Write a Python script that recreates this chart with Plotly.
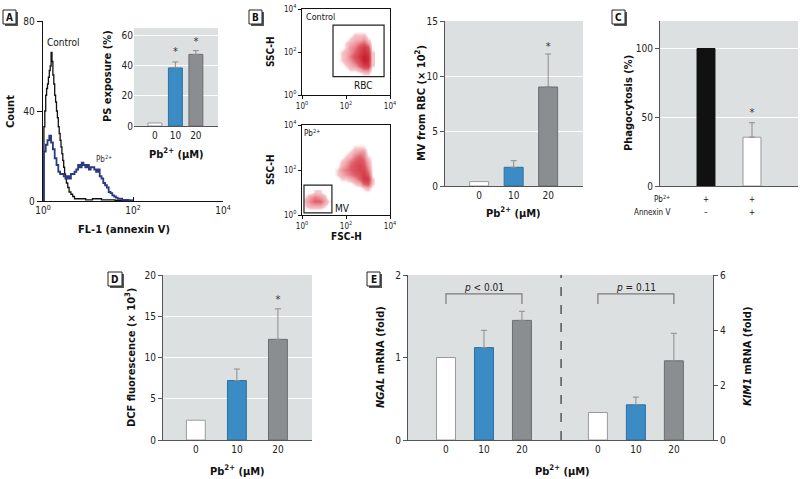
import plotly.graph_objects as go

W, H = 800, 479
FONT = "Liberation Sans Narrow, DejaVu Sans Condensed, Roboto, Arial, sans-serif"
GREY_BG = "#dde0e1"

# ---------------- DATA ----------------
# Panel A histogram (x in log10 FL-1 units)
ctrl_logfl = [0.00, 0.02, 0.04, 0.06, 0.08, 0.10, 0.12, 0.14, 0.16, 0.18, 0.20, 0.22, 0.24, 0.26,
              0.28, 0.30, 0.32, 0.34, 0.36, 0.38, 0.40, 0.42, 0.44, 0.46, 0.48, 0.50, 0.52, 0.55,
              0.58, 0.62, 0.66, 0.70, 0.80, 0.95, 1.10, 1.30, 1.60, 2.00]
ctrl_count = [0, 33, 40, 47, 50, 52, 55, 58, 60, 66, 62, 56, 52, 47, 44, 40, 37, 33, 30, 27,
              24, 21, 18, 15, 12, 10, 8, 6, 4, 3, 2, 1, 1, 0.5, 1, 0.5, 0.3, 0]
pb_logfl = [0.00, 0.02, 0.06, 0.10, 0.14, 0.18, 0.22, 0.26, 0.30, 0.34, 0.38, 0.42, 0.46, 0.50,
            0.54, 0.58, 0.62, 0.66, 0.70, 0.74, 0.78, 0.82, 0.86, 0.90, 0.94, 0.98, 1.02, 1.06,
            1.10, 1.14, 1.18, 1.22, 1.26, 1.30, 1.34, 1.38, 1.42, 1.46, 1.50, 1.54, 1.58, 1.62,
            1.66, 1.70, 1.76, 1.82, 1.90, 2.00]
pb_count = [0, 22, 25, 27, 29, 26, 23, 19, 16, 13, 12, 12, 11, 10, 11, 10, 12, 12, 13, 14,
            16, 15, 17, 16, 15, 16, 14, 15, 15, 14, 13, 14, 11, 10, 8, 7, 6, 4, 3.5, 2.5,
            2, 1.5, 1, 1, 0.5, 0.5, 0.3, 0]
log_ticks = ["10<sup>0</sup>", "10<sup>2</sup>", "10<sup>4</sup>"]

# Panel A inset
dose_labels = ["0", "10", "20"]
ps_exposure = [2.0, 38.5, 47.5]
ps_exposure_top = [2.0, 42.5, 50.0]

# Panel B scatter density grids (log10 FSC-H, log10 SSC-H)
ctrl_fsc = [1.6, 1.8, 2.0, 2.2, 2.4, 2.6, 2.8, 3.0, 3.2]
ctrl_ssc = [1.0, 1.2, 1.4, 1.6, 1.8, 2.0, 2.2, 2.4, 2.6, 2.8, 3.0]
ctrl_density = [
    [0, 0, 0, 0, 0, 0, 1, 1, 0],
    [0, 0, 0, 1, 1, 2, 4, 4, 0],
    [0, 0, 1, 2, 3, 5, 8, 8, 1],
    [0, 1, 2, 3, 5, 7, 10, 9, 1],
    [0, 1, 2, 4, 6, 8, 10, 9, 1],
    [0, 1, 2, 3, 5, 7, 9, 8, 1],
    [0, 0, 1, 3, 4, 6, 8, 6, 0],
    [0, 0, 1, 2, 3, 4, 5, 3, 0],
    [0, 0, 0, 1, 2, 2, 3, 1, 0],
    [0, 0, 0, 0, 1, 1, 1, 0, 0],
    [0, 0, 0, 0, 0, 0, 0, 0, 0],
]
pb_fsc = [1.4, 1.6, 1.8, 2.0, 2.2, 2.4, 2.6, 2.8, 3.0, 3.2]
pb_ssc = [1.0, 1.2, 1.4, 1.6, 1.8, 2.0, 2.2, 2.4, 2.6, 2.8, 3.0, 3.2]
pb_density = [
    [0, 0, 0, 0, 0, 0, 0, 0, 0, 0],
    [0, 0, 0, 0, 0, 0, 0, 1, 2, 0],
    [0, 0, 0, 0, 0, 1, 2, 5, 6, 1],
    [0, 0, 1, 1, 2, 3, 5, 8, 8, 1],
    [0, 1, 2, 3, 4, 5, 6, 8, 6, 0],
    [0, 1, 3, 4, 5, 6, 7, 7, 4, 0],
    [0, 0, 2, 3, 5, 6, 7, 6, 3, 0],
    [0, 0, 1, 2, 4, 5, 6, 5, 2, 0],
    [0, 0, 0, 1, 2, 4, 5, 4, 1, 0],
    [0, 0, 0, 0, 1, 2, 3, 3, 0, 0],
    [0, 0, 0, 0, 0, 1, 1, 1, 0, 0],
    [0, 0, 0, 0, 0, 0, 0, 0, 0, 0],
]
mv_fsc = [0.0, 0.2, 0.4, 0.6, 0.8, 1.0, 1.2, 1.4]
mv_ssc = [0.2, 0.4, 0.6, 0.8, 1.0]
mv_density = [
    [0, 0, 0, 0, 0, 0, 0, 0],
    [0, 1, 2, 2, 2, 1, 0, 0],
    [0, 2, 4, 5, 5, 3, 1, 0],
    [0, 1, 3, 4, 3, 2, 0, 0],
    [0, 0, 0, 1, 1, 0, 0, 0],
]
rbc_gate = [1.41, 0.85, 3.73, 3.25]   # x0, y0, x1, y1 (log units)
mv_gate = [0.09, 0.09, 1.36, 1.33]

# Panel B bar
mv_from_rbc = [0.4, 1.7, 9.0]
mv_from_rbc_top = [0.4, 2.3, 12.0]

# Panel C
phago = [100, 35.5]
phago_top = [100, 46]

# Panel D
dcf = [2.4, 7.2, 12.2]
dcf_top = [2.4, 8.6, 15.9]

# Panel E
ngal = [1.0, 1.12, 1.45]
ngal_top = [1.0, 1.33, 1.56]
kim1 = [1.0, 1.28, 2.88]
kim1_top = [1.0, 1.56, 3.88]

FILLS3 = ["#ffffff", "#3b8bc4", "#8b8e90"]
LINES3 = ["#9a9a9a", "#2c6f9f", "#6a6d6f"]

# ---------------- helpers ----------------
def dx(a, b):
    return [a / W, b / W]

def dy(top, bot):
    return [1 - bot / H, 1 - top / H]

fig = go.Figure()

def bars(xv, yv, fills, lines, xa, ya, width):
    fig.add_trace(go.Bar(x=xv, y=yv, width=width, xaxis=xa, yaxis=ya,
                         marker=dict(color=fills, line=dict(color=lines, width=1)),
                         hoverinfo="skip", showlegend=False))

def errs(xv, yv, top, xa, ya):
    pts = [(x, y, t - y) for x, y, t in zip(xv, yv, top) if t > y]
    fig.add_trace(go.Scatter(x=[p[0] for p in pts], y=[p[1] for p in pts], mode="markers",
                             marker=dict(size=1, color="rgba(0,0,0,0)"),
                             error_y=dict(type="data", symmetric=False,
                                          array=[p[2] for p in pts], arrayminus=[0] * len(pts),
                                          color="#8c8c8c", thickness=1, width=3),
                             xaxis=xa, yaxis=ya, hoverinfo="skip", showlegend=False))

def stars(xv, yv, xa, ya, size=11):
    fig.add_trace(go.Scatter(x=xv, y=yv, mode="text", text=["*"] * len(xv),
                             textfont=dict(size=size, color="#333", family=FONT),
                             textposition="middle center",
                             xaxis=xa, yaxis=ya, hoverinfo="skip", showlegend=False))

annotations = []
def txt(x, y, s, size=10, bold=False, angle=0, xanchor="center", color="#111"):
    if bold:
        s = "<b>" + s + "</b>"
    annotations.append(dict(x=x / W, y=1 - y / H, xref="paper", yref="paper", text=s,
                            showarrow=False, textangle=angle, xanchor=xanchor, yanchor="middle",
                            font=dict(size=size, family=FONT, color=color)))

shapes = []
def grey_bg(ax):
    shapes.append(dict(type="rect", xref=f"{ax[0]} domain", yref=f"{ax[1]} domain",
                       x0=0, x1=1, y0=0, y1=1, fillcolor=GREY_BG, line=dict(width=0),
                       layer="below"))

def panel_label(x0, y0, x1, y1, s):
    shapes.append(dict(type="rect", xref="paper", yref="paper",
                       x0=(x0 + 2) / W, x1=(x1 + 2) / W, y0=1 - (y1 + 2) / H, y1=1 - (y0 + 2) / H,
                       fillcolor="#555", line=dict(width=0)))
    shapes.append(dict(type="rect", xref="paper", yref="paper",
                       x0=x0 / W, x1=x1 / W, y0=1 - y1 / H, y1=1 - y0 / H,
                       fillcolor="white", line=dict(color="#222", width=1)))
    txt((x0 + x1) / 2, (y0 + y1) / 2 + 0.5, s, size=10, bold=True)

# ---------------- Panel A ----------------
fig.add_trace(go.Scatter(x=ctrl_logfl, y=ctrl_count, mode="lines", line=dict(color="#111", width=1.3, shape="hv"),
                         xaxis="x", yaxis="y", hoverinfo="skip", showlegend=False))
fig.add_trace(go.Scatter(x=pb_logfl, y=pb_count, mode="lines", line=dict(color="#2c3a82", width=1.8, shape="hv"),
                         xaxis="x", yaxis="y", hoverinfo="skip", showlegend=False))
grey_bg(("x2", "y2"))
inset_x = [0, 1, 2]
bars(inset_x, ps_exposure, FILLS3, LINES3, "x2", "y2", 0.68)
errs(inset_x, ps_exposure, ps_exposure_top, "x2", "y2")
stars([1, 2], [49, 55.5], "x2", "y2")

# ---------------- Panel B scatter ----------------
RED_SCALE = [[0, "rgba(255,255,255,0)"], [0.1, "rgba(228,90,100,0.35)"],
             [0.5, "rgba(212,38,52,0.75)"], [1, "rgba(195,20,35,0.95)"]]
for xs, ys, z, xa, ya in [(ctrl_fsc, ctrl_ssc, ctrl_density, "x3", "y3"),
                          (pb_fsc, pb_ssc, pb_density, "x4", "y4"),
                          (mv_fsc, mv_ssc, mv_density, "x4", "y4")]:
    fig.add_trace(go.Heatmap(x=xs, y=ys, z=z, zmin=0, zmax=10, zsmooth="best",
                             colorscale=RED_SCALE, showscale=False, xaxis=xa, yaxis=ya,
                             hoverinfo="skip"))
for g, xa, ya in [(rbc_gate, "x3", "y3"), (mv_gate, "x4", "y4")]:
    shapes.append(dict(type="rect", xref=xa, yref=ya, x0=g[0], y0=g[1], x1=g[2], y1=g[3],
                       line=dict(color="#222", width=1.2)))

# ---------------- Panel B bar ----------------
grey_bg(("x5", "y5"))
bx = [0, 1, 2]
bars(bx, mv_from_rbc, FILLS3, LINES3, "x5", "y5", 0.55)
errs(bx, mv_from_rbc, mv_from_rbc_top, "x5", "y5")
stars([2], [12.6], "x5", "y5")

# ---------------- Panel C ----------------
grey_bg(("x6", "y6"))
cx = [0, 1]
bars(cx, phago, ["#111111", "#ffffff"], ["#111111", "#9a9a9a"], "x6", "y6", 0.39)
errs(cx, phago, phago_top, "x6", "y6")
stars([1], [53], "x6", "y6")

# ---------------- Panel D ----------------
grey_bg(("x7", "y7"))
bars(bx, dcf, FILLS3, LINES3, "x7", "y7", 0.46)
errs(bx, dcf, dcf_top, "x7", "y7")
stars([2], [17.0], "x7", "y7")

# ---------------- Panel E ----------------
grey_bg(("x8", "y8"))
ex_l = [0, 1, 2]
ex_r = [4, 5, 6]
bars(ex_l, ngal, FILLS3, LINES3, "x8", "y8", 0.5)
errs(ex_l, ngal, ngal_top, "x8", "y8")
bars(ex_r, kim1, FILLS3, LINES3, "x8", "y9", 0.5)
errs(ex_r, kim1, kim1_top, "x8", "y9")
shapes.append(dict(type="line", xref="x8", yref="y8 domain", x0=3.03, x1=3.03, y0=0, y1=1,
                   line=dict(color="#333", width=1.2, dash="dash")))
for a, b in [(0, 2), (4, 6)]:
    shapes.append(dict(type="path", xref="x8", yref="y8",
                       path=f"M {a},1.65 L {a},1.77 L {b},1.77 L {b},1.65",
                       line=dict(color="#7a7a7a", width=1.2)))
annotations.append(dict(x=1, y=1.85, xref="x8", yref="y8", text="<i>p</i> < 0.01", showarrow=False,
                        font=dict(size=10, family=FONT, color="#222")))
annotations.append(dict(x=5, y=1.85, xref="x8", yref="y8", text="<i>p</i> = 0.11", showarrow=False,
                        font=dict(size=10, family=FONT, color="#222")))

# ---------------- Text ----------------
txt(63, 43, "Control", 10)
txt(104, 159, "Pb<sup>2+</sup>", 8, color="#333")
txt(10, 112, "Count", 11, bold=True, angle=-90)
txt(124, 230, "FL-1 (annexin V)", 11, bold=True)
txt(107, 76, "PS exposure (%)", 11, bold=True, angle=-90)
txt(176, 153, "Pb<sup>2+</sup> (µM)", 11, bold=True)

txt(270, 52, "SSC-H", 10, bold=True, angle=-90)
txt(270, 170, "SSC-H", 10, bold=True, angle=-90)
txt(346, 236, "FSC-H", 10, bold=True)
txt(320, 17, "Control", 9)
txt(363, 85, "RBC", 10)
txt(312, 133, "Pb<sup>2+</sup>", 8)
txt(342, 208, "MV", 10)

txt(420, 103, "MV from RBC (× 10<sup>2</sup>)", 11, bold=True, angle=-90)
txt(513, 212, "Pb<sup>2+</sup> (µM)", 11, bold=True)

txt(628, 103, "Phagocytosis (%)", 11, bold=True, angle=-90)
txt(672, 199, "Pb<sup>2+</sup>", 8, xanchor="right")
txt(672, 212, "Annexin V", 8, xanchor="right")
txt(706, 199, "+", 8)
txt(752, 199, "+", 8)
txt(706, 212, "–", 8)
txt(752, 212, "+", 8)

txt(130, 358, "DCF fluorescence (× 10<sup>3</sup>)", 11, bold=True, angle=-90)
txt(237, 470, "Pb<sup>2+</sup> (µM)", 11, bold=True)

txt(380, 357, "<i>NGAL</i> mRNA (fold)", 11, bold=True, angle=-90)
txt(747, 357, "<i>KIM1</i> mRNA (fold)", 11, bold=True, angle=-90)
txt(562, 470, "Pb<sup>2+</sup> (µM)", 11, bold=True)

panel_label(3, 10, 16, 24, "A")
panel_label(249, 10, 262, 24, "B")
panel_label(612, 10, 625, 24, "C")
panel_label(108, 272, 122, 286, "D")
panel_label(367, 272, 380, 286, "E")

# ---------------- Axes ----------------
TF = dict(size=10, family=FONT, color="#222")
TFS = dict(size=8, family=FONT, color="#222")

def bar_x(domain, rng, anchor, tickvals, ticktext):
    return dict(domain=domain, range=rng, anchor=anchor, tickvals=tickvals, ticktext=ticktext,
                showline=True, linecolor="#555", linewidth=1, ticks="", showgrid=False,
                zeroline=False, tickfont=TF, fixedrange=True)

def bar_y(domain, rng, anchor, tickvals, grid=True):
    return dict(domain=domain, range=rng, anchor=anchor, tickvals=tickvals, showline=True,
                linecolor="#555", linewidth=1, ticks="outside", ticklen=4, tickcolor="#555",
                showgrid=grid, gridcolor="white", gridwidth=1, zeroline=False, tickfont=TF,
                fixedrange=True)

def log_ax(domain, anchor, mirror):
    return dict(domain=domain, range=[0, 4], anchor=anchor, tickvals=[0, 2, 4], ticktext=log_ticks,
                showline=True, mirror=mirror, linecolor="#111", linewidth=1, ticks="outside",
                ticklen=3, tickcolor="#111", showgrid=False, zeroline=False, tickfont=TFS,
                fixedrange=True)

layout = dict(
    width=W, height=H, autosize=False, margin=dict(l=0, r=0, t=0, b=0, pad=0),
    paper_bgcolor="white", plot_bgcolor="rgba(0,0,0,0)", showlegend=False,
    barmode="overlay", font=dict(family=FONT, size=10, color="#222"),
    xaxis=dict(domain=dx(43, 223), range=[0, 4], anchor="y", tickvals=[0, 2, 4], ticktext=log_ticks,
               showline=True, linecolor="#111", linewidth=1.2, ticks="inside", ticklen=4,
               tickcolor="#111", showgrid=False, zeroline=False, tickfont=TF, fixedrange=True),
    yaxis=dict(domain=dy(21, 201), range=[0, 80], anchor="x", tickvals=[0, 40, 80],
               showline=True, linecolor="#111", linewidth=1.2, ticks="outside", ticklen=5,
               tickcolor="#111", showgrid=False, zeroline=False, tickfont=TF, fixedrange=True),
    xaxis2=bar_x(dx(134, 218), [-1.02, 3.08], "y2", [0, 1, 2], dose_labels),
    yaxis2=dict(domain=dy(28, 126), range=[0, 65], anchor="x2", tickvals=[0, 20, 40, 60],
                showline=False, ticks="", showgrid=True, gridcolor="white", zeroline=False,
                tickfont=TF, fixedrange=True),
    xaxis3=log_ax(dx(302, 390), "y3", True),
    yaxis3=log_ax(dy(9, 95), "x3", True),
    xaxis4=log_ax(dx(302, 390), "y4", True),
    yaxis4=log_ax(dy(125, 215), "x4", True),
    xaxis5=bar_x(dx(445, 583), [-0.99, 3.01], "y5", [0, 1, 2], dose_labels),
    yaxis5=bar_y(dy(21, 186), [0, 15], "x5", [0, 5, 10, 15]),
    xaxis6=dict(domain=dx(660, 798), range=[-1, 2], anchor="y6", showticklabels=False,
                showline=True, linecolor="#555", ticks="", showgrid=False, zeroline=False,
                fixedrange=True),
    yaxis6=bar_y(dy(21, 186), [0, 120], "x6", [0, 50, 100]),
    xaxis7=bar_x(dx(163, 312), [-0.8, 2.83], "y7", [0, 1, 2], dose_labels),
    yaxis7=bar_y(dy(275, 440), [0, 20], "x7", [0, 5, 10, 15, 20]),
    xaxis8=bar_x(dx(408, 713), [-1, 7.03], "y8", [0, 1, 2, 4, 5, 6], dose_labels + dose_labels),
    yaxis8=bar_y(dy(275, 440), [0, 2], "x8", [0, 1, 2], grid=False),
    yaxis9=dict(domain=dy(275, 440), range=[0, 6], anchor="x8", overlaying="y8", side="right",
                tickvals=[0, 2, 4, 6], showline=True, linecolor="#555", linewidth=1,
                ticks="outside", ticklen=4, tickcolor="#555", showgrid=False, zeroline=False,
                tickfont=TF, fixedrange=True),
    shapes=shapes, annotations=annotations,
)
fig.update_layout(**layout)
fig.update_xaxes(automargin=False)
fig.update_yaxes(automargin=False)
fig.write_html("out.html", config={"displayModeBar": False, "staticPlot": True},
               post_script="document.body.style.margin='0';document.body.style.padding='0';"
                           "document.documentElement.style.overflow='hidden';")
